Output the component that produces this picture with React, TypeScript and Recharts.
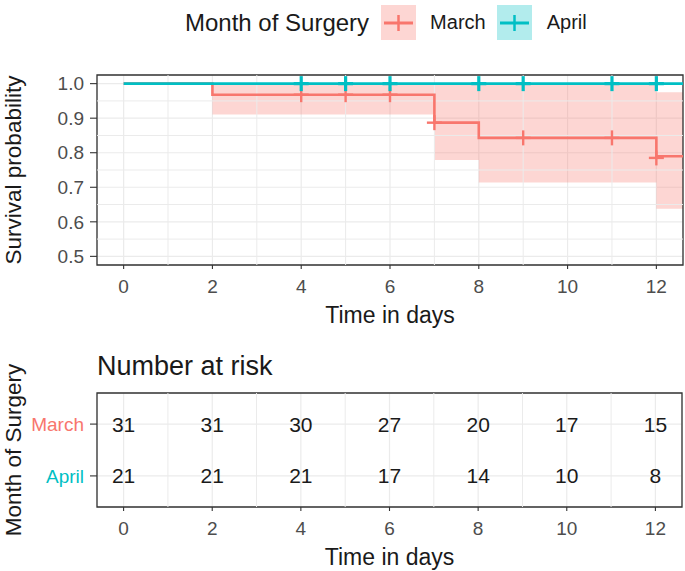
import React from 'react';
import {
  ComposedChart,
  Line,
  Area,
  Scatter,
  XAxis,
  YAxis,
  CartesianGrid,
  ReferenceLine,
  ReferenceArea,
  Legend,
  Label,
} from 'recharts';

const FONT = '"Liberation Sans", Arial, Helvetica, sans-serif';
const MARCH = '#F8766D';
const APRIL = '#00BFC4';
const GRID = '#EBEBEB';
const BORDER = '#333333';
const TICK_TEXT = '#4D4D4D';

// Kaplan-Meier step data
const stepTimes = [0, 2, 7, 8, 12, 12.6];
const marchSurv = [1, 0.968, 0.887, 0.843, 0.79, 0.79];
const marchLower = [1, 0.911, 0.779, 0.714, 0.638, 0.638];
const marchUpper = [1, 1, 1, 1, 0.975, 0.975];
const aprilSurv = [1, 1, 1, 1, 1, 1];

// censoring marks
const marchCensorTimes = [4, 5, 6, 7, 9, 11, 12];
const marchCensorSurv = [0.968, 0.968, 0.968, 0.887, 0.843, 0.843, 0.785];
const aprilCensorTimes = [4, 5, 6, 8, 9, 11, 12];
const aprilCensorSurv = [1, 1, 1, 1, 1, 1, 1];

// axes
const xTicks = [0, 2, 4, 6, 8, 10, 12];
const xMinor = [1, 3, 5, 7, 9, 11];
const yTicks = [0.5, 0.6, 0.7, 0.8, 0.9, 1.0];
const yMinor = [0.55, 0.65, 0.75, 0.85, 0.95];
const xDomain: [number, number] = [-0.6, 12.6];
const yDomain: [number, number] = [0.475, 1.025];

// risk table
const riskTimes = [0, 2, 4, 6, 8, 10, 12];
const marchRisk = [31, 31, 30, 27, 20, 17, 15];
const aprilRisk = [21, 21, 21, 17, 14, 10, 8];
const strataLabels = ['April', 'March']; // rows 1, 2
const strataColors = [APRIL, MARCH];
const riskYDomain: [number, number] = [0.4, 2.6];

const kmData = stepTimes.map((t, i) => ({
  t,
  march: marchSurv[i],
  marchCI: [marchLower[i], marchUpper[i]],
  april: aprilSurv[i],
}));
const marchCensor = marchCensorTimes.map((t, i) => ({ t, s: marchCensorSurv[i] }));
const aprilCensor = aprilCensorTimes.map((t, i) => ({ t, s: aprilCensorSurv[i] }));
const marchRiskData = riskTimes.map((t, i) => ({ t, row: 2, n: marchRisk[i] }));
const aprilRiskData = riskTimes.map((t, i) => ({ t, row: 1, n: aprilRisk[i] }));

const makePlus = (color: string, w: number) => (props: any) => {
  const { cx, cy } = props;
  if (cx == null || cy == null) return <g />;
  return (
    <g>
      <line x1={cx - 7.5} x2={cx + 7.5} y1={cy} y2={cy} stroke={color} strokeWidth={w} />
      <line x1={cx} x2={cx} y1={cy - 7.5} y2={cy + 7.5} stroke={color} strokeWidth={w} />
    </g>
  );
};

const riskText = (props: any) => {
  const { cx, cy, payload } = props;
  return (
    <text
      x={cx}
      y={cy}
      dy="0.36em"
      textAnchor="middle"
      fontSize={21}
      fontFamily={FONT}
      fill="#1A1A1A"
    >
      {payload.n}
    </text>
  );
};

const xTitle = (text: string) => (props: any) => {
  const vb = props.viewBox || {};
  return (
    <text
      x={vb.x + vb.width / 2}
      y={vb.y + 58}
      textAnchor="middle"
      fontSize={23}
      fontFamily={FONT}
      fill="#1A1A1A"
    >
      {text}
    </text>
  );
};

const yTitle = (text: string, bx: number) => (props: any) => {
  const vb = props.viewBox || {};
  const cy = vb.y + vb.height / 2;
  return (
    <text
      x={bx}
      y={cy}
      transform={`rotate(-90 ${bx} ${cy})`}
      textAnchor="middle"
      fontSize={22.5}
      fontFamily={FONT}
      fill="#1A1A1A"
    >
      {text}
    </text>
  );
};

const KeyBox = ({ color, bg }: { color: string; bg: string }) => (
  <div style={{ width: 35, height: 35, background: bg, flex: '0 0 auto' }}>
    <svg width={35} height={35}>
      <line x1={3} x2={32} y1={18} y2={18} stroke={color} strokeWidth={3} />
      <line x1={17.5} x2={17.5} y1={10} y2={26} stroke={color} strokeWidth={2.5} />
    </svg>
  </div>
);

const renderLegend = () => (
  <div
    style={{
      width: 685,
      height: 45,
      display: 'flex',
      alignItems: 'center',
      paddingLeft: 185,
      boxSizing: 'border-box',
      fontFamily: FONT,
      color: '#1A1A1A',
    }}
  >
    <span style={{ fontSize: 24, marginRight: 12, whiteSpace: 'nowrap' }}>Month of Surgery</span>
    <KeyBox color={MARCH} bg="rgba(248,118,109,0.3)" />
    <span style={{ fontSize: 20, marginLeft: 14, marginRight: 11 }}>March</span>
    <KeyBox color={APRIL} bg="rgba(0,191,196,0.3)" />
    <span style={{ fontSize: 20, marginLeft: 15 }}>April</span>
  </div>
);

const RiskTick = (props: any) => {
  const { x, y, payload } = props;
  const idx = payload.value - 1;
  return (
    <text
      x={x}
      y={y}
      dy="0.36em"
      textAnchor="end"
      fontSize={19}
      fontFamily={FONT}
      fill={strataColors[idx]}
    >
      {strataLabels[idx]}
    </text>
  );
};

const tickStyle = { fill: TICK_TEXT, fontSize: 19, fontFamily: FONT };

export default function App() {
  return (
    <div
      style={{
        position: 'absolute',
        left: 0,
        top: 0,
        width: 685,
        height: 571,
        background: '#FFFFFF',
        fontFamily: FONT,
      }}
    >
      <div style={{ position: 'absolute', left: 0, top: 0 }}>
        <ComposedChart
          width={685}
          height={340}
          data={kmData}
          margin={{ top: 30, right: 2, bottom: 15, left: 0 }}
        >
          <Legend
            verticalAlign="top"
            align="left"
            content={renderLegend}
            wrapperStyle={{ top: 0, left: 0, width: 685, height: 45 }}
          />
          <CartesianGrid stroke={GRID} strokeWidth={1.2} />
          {xMinor.map((v) => (
            <ReferenceLine key={'xm' + v} x={v} stroke={GRID} strokeWidth={1} />
          ))}
          {yMinor.map((v) => (
            <ReferenceLine key={'ym' + v} y={v} stroke={GRID} strokeWidth={1} />
          ))}
          <XAxis
            dataKey="t"
            type="number"
            domain={xDomain}
            allowDataOverflow
            ticks={xTicks}
            interval={0}
            axisLine={false}
            tickLine={{ stroke: BORDER, strokeWidth: 1.1 }}
            tickSize={4}
            tickMargin={11}
            height={60}
            tick={tickStyle}
          >
            <Label content={xTitle('Time in days')} />
          </XAxis>
          <YAxis
            type="number"
            domain={yDomain}
            allowDataOverflow
            ticks={yTicks}
            interval={0}
            tickFormatter={(v: number) => v.toFixed(1)}
            axisLine={false}
            tickLine={{ stroke: BORDER, strokeWidth: 1.1 }}
            tickSize={7}
            tickMargin={6}
            width={97}
            tick={tickStyle}
          >
            <Label content={yTitle('Survival probability', 21)} />
          </YAxis>
          <Area
            type="stepAfter"
            dataKey="marchCI"
            stroke="none"
            fill={MARCH}
            fillOpacity={0.3}
            isAnimationActive={false}
          />
          <Line
            type="stepAfter"
            dataKey="march"
            stroke={MARCH}
            strokeWidth={2.6}
            dot={false}
            isAnimationActive={false}
          />
          <Line
            type="stepAfter"
            dataKey="april"
            stroke={APRIL}
            strokeWidth={2.8}
            dot={false}
            isAnimationActive={false}
          />
          <Scatter
            data={marchCensor}
            dataKey="s"
            shape={makePlus(MARCH, 2.4)}
            isAnimationActive={false}
          />
          <Scatter
            data={aprilCensor}
            dataKey="s"
            shape={makePlus(APRIL, 3.2)}
            isAnimationActive={false}
          />
          <ReferenceArea
            x1={xDomain[0]}
            x2={xDomain[1]}
            y1={yDomain[0]}
            y2={yDomain[1]}
            fill="none"
            fillOpacity={0}
            stroke={BORDER}
            strokeWidth={1.3}
            ifOverflow="visible"
          />
        </ComposedChart>
      </div>

      <div
        style={{
          position: 'absolute',
          left: 97,
          top: 350,
          fontSize: 27,
          lineHeight: '32px',
          color: '#1A1A1A',
          fontFamily: FONT,
          whiteSpace: 'nowrap',
        }}
      >
        Number at risk
      </div>

      <div style={{ position: 'absolute', left: 0, top: 340 }}>
        <ComposedChart
          width={685}
          height={231}
          margin={{ top: 53, right: 3, bottom: 14, left: 0 }}
        >
          <CartesianGrid stroke={GRID} strokeWidth={1.2} />
          {xMinor.map((v) => (
            <ReferenceLine key={'rxm' + v} x={v} stroke={GRID} strokeWidth={1} />
          ))}
          <XAxis
            dataKey="t"
            type="number"
            domain={xDomain}
            allowDataOverflow
            ticks={xTicks}
            interval={0}
            axisLine={false}
            tickLine={{ stroke: BORDER, strokeWidth: 1.1 }}
            tickSize={4}
            tickMargin={11}
            height={50}
            tick={tickStyle}
          >
            <Label content={xTitle('Time in days')} />
          </XAxis>
          <YAxis
            type="number"
            domain={riskYDomain}
            allowDataOverflow
            ticks={[1, 2]}
            interval={0}
            axisLine={false}
            tickLine={{ stroke: BORDER, strokeWidth: 1.1 }}
            tickSize={7}
            tickMargin={6}
            width={97}
            tick={<RiskTick />}
          >
            <Label content={yTitle('Month of Surgery', 21)} />
          </YAxis>
          <Scatter data={marchRiskData} dataKey="row" shape={riskText} isAnimationActive={false} />
          <Scatter data={aprilRiskData} dataKey="row" shape={riskText} isAnimationActive={false} />
          <ReferenceArea
            x1={xDomain[0]}
            x2={xDomain[1]}
            y1={riskYDomain[0]}
            y2={riskYDomain[1]}
            fill="none"
            fillOpacity={0}
            stroke={BORDER}
            strokeWidth={1.3}
            ifOverflow="visible"
          />
        </ComposedChart>
      </div>
    </div>
  );
}
